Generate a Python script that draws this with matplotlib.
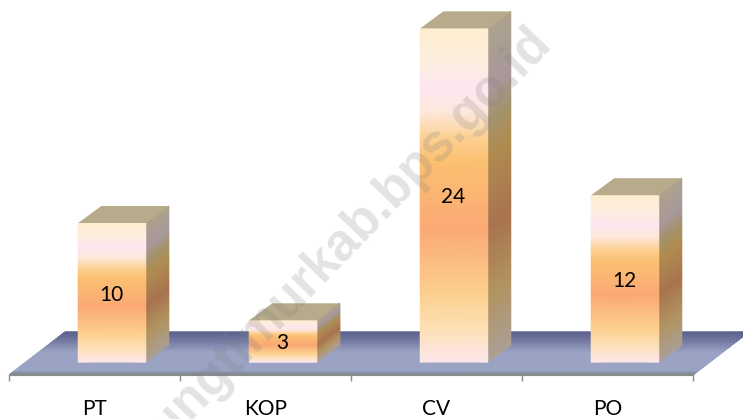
import matplotlib
matplotlib.use("Agg")
import matplotlib.pyplot as plt
import numpy as np
from matplotlib.colors import LinearSegmentedColormap

categories = ["PT", "KOP", "CV", "PO"]
values = [10, 3, 24, 12]

plt.rcParams["font.family"] = ["Lato", "DejaVu Sans"]

W, H = 743, 419
fig = plt.figure(figsize=(W / 100, H / 100), dpi=100)
fig.patch.set_facecolor("white")

# axes bottom sits on the front edge of the floor
axis_px = 375
ax = fig.add_axes([0, (H - axis_px) / H, 1, axis_px / H])

px_x = 171        # pixels per category
px_y = 13.9       # pixels per unit
base_px = 362
ax.set_xlim(-94.5 / px_x, (W - 94.5) / px_x)
ax.set_ylim(-(axis_px - base_px) / px_y, base_px / px_y)

bar_w = 67.5 / px_x
bar_shift = 17.5 / px_x
depth_x = 23 / px_x
depth_y = 17 / px_y
floor_x = 56 / px_x
floor_y = 43 / px_y

front_cmap = LinearSegmentedColormap.from_list("front", [
    (0.0, "#fdedcf"), (0.10, "#fdeee0"), (0.18, "#fde6f0"), (0.25, "#fde8dc"),
    (0.33, "#fcd091"), (0.40, "#fbc071"), (0.60, "#fba974"),
    (0.80, "#fcd08f"), (0.90, "#fde0b5"), (1.0, "#fde6ea")])
side_cmap = LinearSegmentedColormap.from_list("side", [
    (0.0, "#ada28c"), (0.18, "#a8989c"), (0.27, "#a3936f"), (0.38, "#b08c50"),
    (0.60, "#a8744f"), (0.80, "#b29360"), (1.0, "#aba095")])
floor_cmap = LinearSegmentedColormap.from_list("floor", [
    (0.0, "#7f888c"), (0.07, "#8a93a5"), (0.10, "#9aa3c3"), (0.55, "#9aa3c3"),
    (0.80, "#777cA5"), (1.0, "#5d628f")])


def skew_mesh(ax, x0, x1, y0, y1, rise, cmap, n=80):
    # vertical gradient on a sheared quad, right edge lifted by rise
    t = np.linspace(0, 1, n)
    ys = y1 + (y0 - y1) * t
    X = np.column_stack([np.full(n, x0), np.full(n, x1)])
    Y = np.column_stack([ys, ys + rise])
    C = np.column_stack([t, t])
    ax.pcolormesh(X, Y, C, cmap=cmap, shading="gouraud", vmin=0, vmax=1, clip_on=False)


# floor
t = np.linspace(0, 1, 80)
fy = ax.get_ylim()[0] + floor_y * t
fx0 = -85.5 / px_x + floor_x * t
fx1 = 598.5 / px_x + floor_x * t
X = np.column_stack([fx0, fx1])
Y = np.column_stack([fy, fy])
ax.pcolormesh(X, Y, np.column_stack([t, t]), cmap=floor_cmap, shading="gouraud", vmin=0, vmax=1)

# bars
for i, (name, v) in enumerate(zip(categories, values)):
    left = i + bar_shift - bar_w / 2
    right = left + bar_w
    skew_mesh(ax, right, right + depth_x, 0, v, depth_y, side_cmap)
    ax.fill([left, right, right + depth_x, left + depth_x],
            [v, v, v + depth_y, v + depth_y], color="#b8ab8c", lw=0, zorder=2.5)
    skew_mesh(ax, left, right, 0, v, 0, front_cmap)
    ax.annotate(str(v), (left + bar_w / 2, v / 2), xytext=(-0.5, -1.5), textcoords="offset points",
                ha="center", va="center", fontsize=15, color="black", zorder=5)

# axis: ticks on category borders, labels on centres
ax.set_xticks(np.arange(len(categories) + 1) - 0.5)
ax.set_xticklabels([])
ax.set_xticks(np.arange(len(categories)), labels=categories, minor=True)
ax.tick_params(axis="x", which="major", length=4.5, width=1, color="#8c8c8c")
ax.tick_params(axis="x", which="minor", length=0, pad=17, labelsize=15)
ax.set_yticks([])
for s in ["top", "left", "right"]:
    ax.spines[s].set_visible(False)
ax.spines["bottom"].set_bounds(-0.5, 3.5)
ax.spines["bottom"].set_color("#8c8c8c")
ax.patch.set_alpha(0)

# watermark
fig.text(526 / W, 1 - 17 / H, "belitungtimurkab.bps.go.id", rotation=46, rotation_mode="anchor",
         ha="right", va="top", fontsize=37, fontweight="bold", family=["Liberation Sans"],
         color="#808080", alpha=0.22, zorder=10)

fig.savefig("out.png", dpi=100)
